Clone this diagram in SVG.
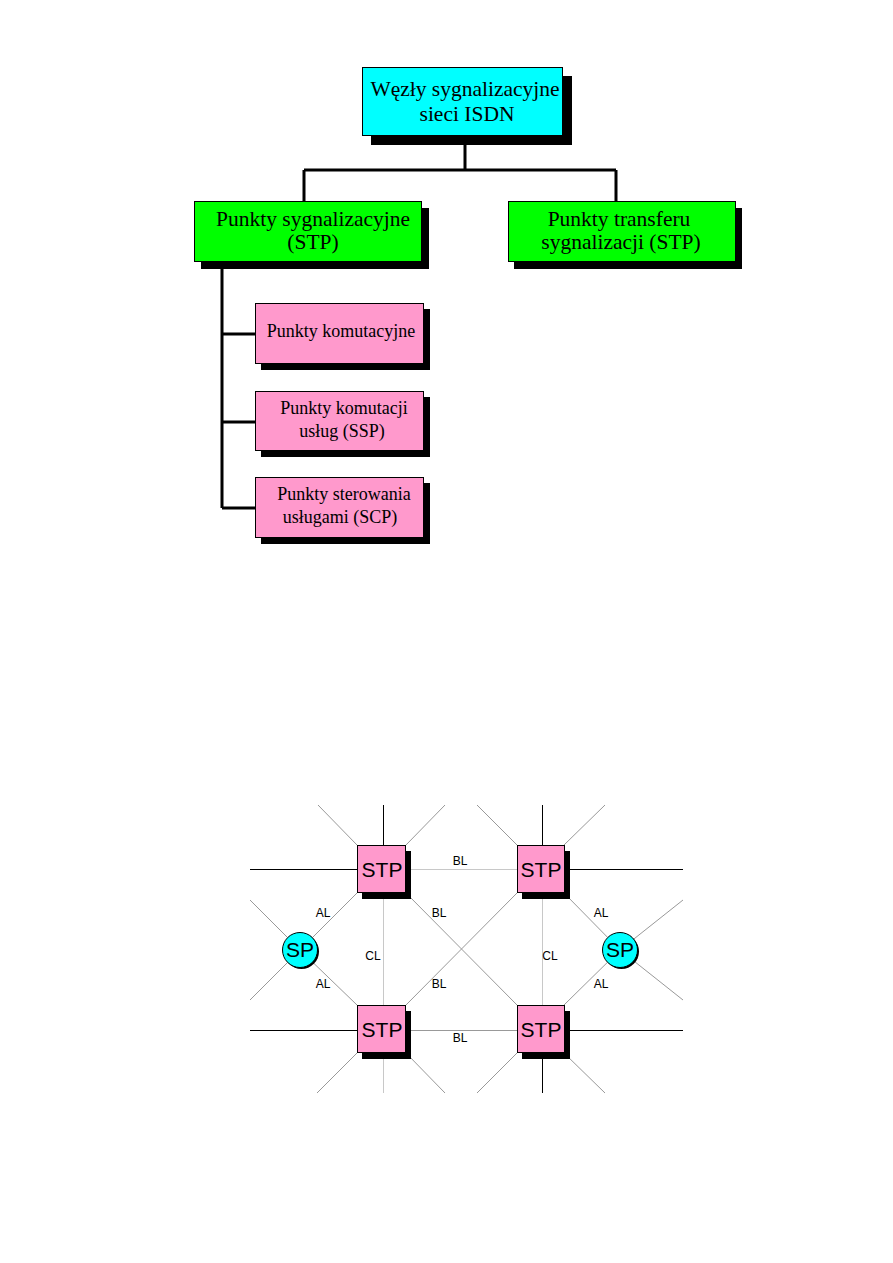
<svg xmlns="http://www.w3.org/2000/svg" width="893" height="1263" viewBox="0 0 893 1263">
<style>
.bg{fill:#fff}
.sh{fill:#000}
.box{stroke:#000;stroke-width:1}
.cyan{fill:#00ffff}
.green{fill:#00ff00}
.pink{fill:#ff99cc}
.tt{font-family:"Liberation Serif","Times New Roman",serif;fill:#000;text-anchor:middle}
.t1{font-size:21.5px}
.t2{font-size:18px}
.tree{stroke:#000;stroke-width:3;fill:none}
.blk{stroke:#000;stroke-width:1;fill:none}
.lg{stroke:#c8c8c8;stroke-width:1;fill:none}
.dg{stroke:#999;stroke-width:1;fill:none}
.ns{font-family:"Liberation Sans",Arial,sans-serif;fill:#000;text-anchor:middle}
.big{font-size:21px}
.lbl{font-size:12px}
</style>
<rect class="bg" width="893" height="1263"/>

<g id="tree-connectors">
<path class="tree" d="M465,144 V170 M304,170 H616 M304,170 V201 M616,170 V201"/>
<path class="tree" d="M222,262 V508 M222,334 H255 M222,422 H255 M222,508 H255"/>
</g>

<g id="node-root">
<rect class="sh" x="371" y="76" width="201" height="69"/>
<rect class="box cyan" x="362.5" y="67.5" width="200" height="68"/>
<text class="tt t1" x="465" y="96">Węzły sygnalizacyjne</text>
<text class="tt t1" x="467" y="121">sieci ISDN</text>
</g>

<g id="node-sp">
<rect class="sh" x="201" y="208" width="228" height="61"/>
<rect class="box green" x="194.5" y="201.5" width="227" height="60"/>
<text class="tt t1" x="313" y="226">Punkty sygnalizacyjne</text>
<text class="tt t1" x="313" y="249">(STP)</text>
</g>

<g id="node-stp">
<rect class="sh" x="514" y="208" width="228" height="61"/>
<rect class="box green" x="508.5" y="201.5" width="227" height="60"/>
<text class="tt t1" x="619" y="226">Punkty transferu</text>
<text class="tt t1" x="621" y="249">sygnalizacji (STP)</text>
</g>

<g id="node-komutacyjne">
<rect class="sh" x="261" y="309" width="169" height="61"/>
<rect class="box pink" x="255.5" y="303.5" width="168" height="60"/>
<text class="tt t2" x="341" y="337">Punkty komutacyjne</text>
</g>

<g id="node-ssp">
<rect class="sh" x="261" y="397" width="169" height="60"/>
<rect class="box pink" x="255.5" y="391.5" width="168" height="59"/>
<text class="tt t2" x="344" y="414">Punkty komutacji</text>
<text class="tt t2" x="342" y="437">usług (SSP)</text>
</g>

<g id="node-scp">
<rect class="sh" x="261" y="483" width="169" height="61"/>
<rect class="box pink" x="255.5" y="477.5" width="168" height="60"/>
<text class="tt t2" x="344" y="500">Punkty sterowania</text>
<text class="tt t2" x="340" y="523">usługami (SCP)</text>
</g>

<g id="network-connectors">
<path class="blk" d="M250,869.5 H357 M564,869.5 H683 M250,1030.5 H357 M564,1030.5 H683 M383.5,805 V845 M542.5,805 V845 M542.5,1053 V1093"/>
<path class="lg" d="M406,869.5 H517 M383.5,893 V1005 M542.5,893 V1005 M383.5,1053 V1093"/>
<path class="dg" d="M406,1030.5 H517"/>
<path class="dg" d="M357,845 L318,805 M406,845 L445,805 M517,845 L477,805 M564,845 L605,805"/>
<path class="dg" d="M357,1053 L317,1093 M406,1053 L445,1093 M517,1053 L477,1093 M564,1053 L605,1093"/>
<path class="dg" d="M357,893 L300,950 L357,1005 M250,900 L300,950 L250,1000"/>
<path class="dg" d="M564,893 L620,950 L564,1005 M683,900 L620,950 L683,1000"/>
<path class="dg" d="M406,893 L517,1005 M517,893 L406,1005"/>
<text class="ns lbl" x="460" y="865">BL</text>
<text class="ns lbl" x="323" y="917">AL</text>
<text class="ns lbl" x="439" y="917">BL</text>
<text class="ns lbl" x="601" y="917">AL</text>
<text class="ns lbl" x="373" y="960">CL</text>
<text class="ns lbl" x="550" y="960">CL</text>
<text class="ns lbl" x="323" y="988">AL</text>
<text class="ns lbl" x="439" y="988">BL</text>
<text class="ns lbl" x="601" y="988">AL</text>
<text class="ns lbl" x="460" y="1042">BL</text>
</g>

<g id="stp-tl">
<rect class="sh" x="362" y="851" width="49" height="48"/>
<rect class="box pink" x="357.5" y="845.5" width="48" height="47"/>
<text class="ns big" x="382" y="877">STP</text>
</g>
<g id="stp-tr">
<rect class="sh" x="522" y="851" width="48" height="48"/>
<rect class="box pink" x="517.5" y="845.5" width="47" height="47"/>
<text class="ns big" x="541" y="877">STP</text>
</g>
<g id="stp-bl">
<rect class="sh" x="362" y="1011" width="49" height="48"/>
<rect class="box pink" x="357.5" y="1005.5" width="48" height="47"/>
<text class="ns big" x="382" y="1037">STP</text>
</g>
<g id="stp-br">
<rect class="sh" x="522" y="1011" width="48" height="48"/>
<rect class="box pink" x="517.5" y="1005.5" width="47" height="47"/>
<text class="ns big" x="541" y="1037">STP</text>
</g>
<g id="sp-left">
<circle class="sh" cx="301.5" cy="951.5" r="17.5"/>
<circle class="box cyan" cx="300" cy="950" r="17.5"/>
<text class="ns big" x="300" y="957">SP</text>
</g>
<g id="sp-right">
<circle class="sh" cx="621.5" cy="951.5" r="17.5"/>
<circle class="box cyan" cx="620" cy="950" r="17.5"/>
<text class="ns big" x="620" y="957">SP</text>
</g>
</svg>
